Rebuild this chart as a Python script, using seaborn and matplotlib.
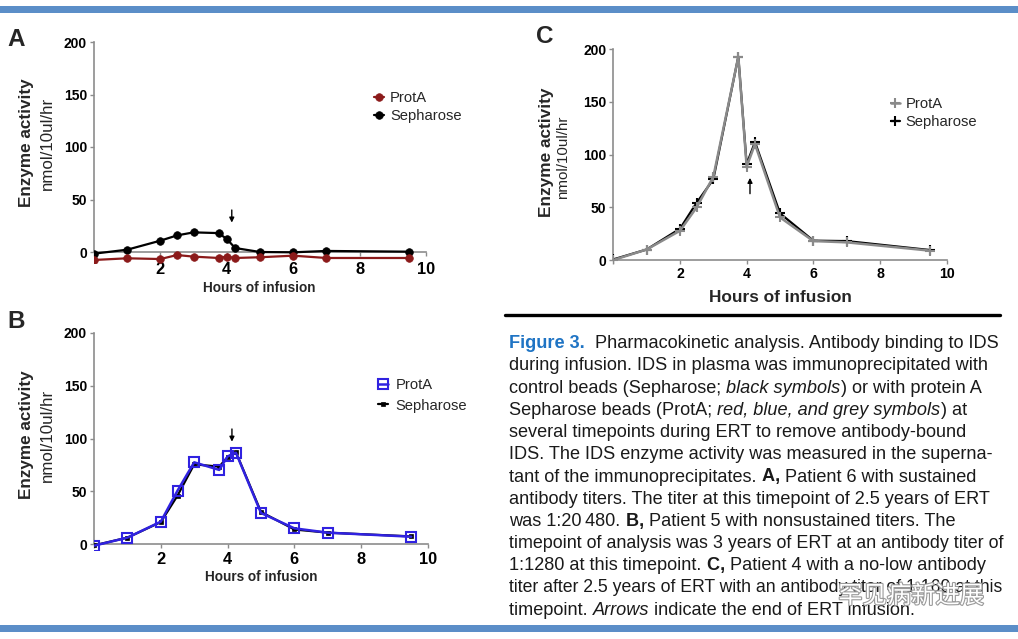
import numpy as np
import pandas as pd
import matplotlib
matplotlib.use('Agg')
import matplotlib.pyplot as plt
import matplotlib.patheffects as pe
from matplotlib.patches import Rectangle
from matplotlib.lines import Line2D
import seaborn as sns

# ---------------- data ----------------
hours = [0, 1, 2, 2.5, 3, 3.75, 4, 4.25, 5, 6, 7, 9.5]
a_prota = [-7.6, -6.0, -6.7, -2.9, -4.4, -5.7, -4.4, -5.7, -5.0, -3.5, -5.7, -5.7]
a_sepharose = [-1.6, 2.2, 10.8, 15.8, 18.7, 18.0, 12.4, 3.8, 0.0, -0.3, 1.0, 0.3]
b_prota = [-1.3, 6.3, 21.4, 50.7, 77.5, 70.3, 83.1, 86.6, 29.6, 15.1, 11.0, 7.2]
b_sepharose = [-1.0, 6.3, 21.0, 46.0, 75.6, 73.4, 82.5, 87.0, 30.6, 14.0, 11.0, 7.5]
c_prota = [0.0, 10.0, 27.8, 50.0, 79.0, 193.0, 88.6, 110.0, 40.5, 18.0, 16.8, 8.9]
c_sepharose = [0.6, 10.0, 29.7, 54.4, 76.6, 193.0, 91.0, 112.0, 44.3, 18.4, 18.0, 9.5]
series_names = ['ProtA', 'Sepharose']
xtick_vals = [0, 2, 4, 6, 8, 10]
xtick_labels = ['', '2', '4', '6', '8', '10']
ytick_vals = [0, 50, 100, 150, 200]
end_of_infusion = {'A': 4.15, 'B': 4.13, 'C': 4.1}
xlabel_text = 'Hours of infusion'
ylabel_main = 'Enzyme activity'
ylabel_unit = 'nmol/10ul/hr'

caption_lines = [
    [("Figure 3.  ", "fig"), ("Pharmacokinetic analysis. Antibody binding to IDS", "n")],
    [("during infusion. IDS in plasma was immunoprecipitated with", "n")],
    [("control beads (Sepharose; ", "n"), ("black symbols", "i"), (") or with protein A", "n")],
    [("Sepharose beads (ProtA; ", "n"), ("red, blue, and grey symbols", "i"), (") at", "n")],
    [("several timepoints during ERT to remove antibody-bound", "n")],
    [("IDS. The IDS enzyme activity was measured in the superna-", "n")],
    [("tant of the immunoprecipitates. ", "n"), ("A, ", "b"), ("Patient 6 with sustained", "n")],
    [("antibody titers. The titer at this timepoint of 2.5 years of ERT", "n")],
    [("was 1:20\u2009480. ", "n"), ("B, ", "b"), ("Patient 5 with nonsustained titers. The", "n")],
    [("timepoint of analysis was 3 years of ERT at an antibody titer of", "n")],
    [("1:1280 at this timepoint. ", "n"), ("C, ", "b"), ("Patient 4 with a no-low antibody", "n")],
    [("titer after 2.5 years of ERT with an antibody titer of 1:160 at this", "n")],
    [("timepoint. ", "n"), ("Arrows", "i"), (" indicate the end of ERT infusion.", "n")],
]
watermark = '罕见病新进展'

# ---------------- style ----------------
W, H = 1018, 639
sns.set_theme(style='white')
plt.rcParams['font.family'] = ['Liberation Sans', 'DejaVu Sans']
fig = plt.figure(figsize=(W / 100, H / 100), dpi=100)
fig.patch.set_facecolor('white')

AXGREY = '#8c8c8c'
RED = '#8b1a1a'
BLUE = '#3022e0'
GREY = '#8a8a8a'
BAR = '#5b8ec8'


def fx(x):
    return x / W


def fy(y):
    return 1 - y / H


def add_ax(l, t, r, b):
    return fig.add_axes([l / W, 1 - b / H, (r - l) / W, (b - t) / H])


def setup(ax, ylo, xsize, xpad):
    ax.set_facecolor('none')
    ax.set_xlim(0, 10)
    ax.set_ylim(ylo, 200)
    for s in ['top', 'right']:
        ax.spines[s].set_visible(False)
    ax.spines['bottom'].set_position(('data', 0))
    ax.spines['left'].set_bounds(0, 200)
    for s in ['bottom', 'left']:
        ax.spines[s].set_color(AXGREY)
        ax.spines[s].set_linewidth(1.2)
    ax.set_xticks(xtick_vals)
    ax.set_xticklabels(xtick_labels)
    ax.set_yticks(ytick_vals)
    ax.set_yticklabels([str(v) for v in ytick_vals])
    ax.tick_params(axis='x', direction='out', length=3, width=1, color=AXGREY,
                   pad=xpad, labelsize=xsize, bottom=True)
    ax.tick_params(axis='y', direction='out', length=3, width=1, color=AXGREY,
                   pad=2, labelsize=10, left=True)
    for lab in ax.get_xticklabels() + ax.get_yticklabels():
        lab.set_fontweight('bold')
        lab.set_color('black')
    ax.grid(False)
    ax.set_xlabel('')
    ax.set_ylabel('')


def arrow(ax, x, y0, y1):
    ax.annotate('', xy=(x, y1), xytext=(x, y0),
                arrowprops=dict(arrowstyle='-|>', color='black', lw=1.0,
                                mutation_scale=7, shrinkA=0, shrinkB=0))


# ---------------- Panel A ----------------
axA = add_ax(94, 42, 426, 262.5)
setup(axA, -10, 11.8, 4.5)
sns.lineplot(x=hours, y=a_sepharose, ax=axA, color='black', lw=1.6, marker='o',
             markersize=5.5, markeredgecolor='black', markeredgewidth=0.5,
             label=series_names[1], zorder=3)
sns.lineplot(x=hours, y=a_prota, ax=axA, color=RED, lw=1.6, marker='o',
             markersize=5.5, markeredgecolor=RED, markeredgewidth=0.5,
             label=series_names[0], zorder=3)
arrow(axA, end_of_infusion['A'], 40, 28)
h, l = axA.get_legend_handles_labels()
axA.legend([h[1], h[0]], [l[1], l[0]], loc='upper left',
           bbox_to_anchor=(fx(374), fy(91)), bbox_transform=fig.transFigure,
           frameon=False, borderpad=0, borderaxespad=0, handlelength=0.7,
           handletextpad=0.4, labelspacing=0.3, fontsize=10.6)
axA.set_xlabel(xlabel_text, fontsize=9.8, fontweight='bold')
axA.xaxis.set_label_coords((259.5 - 94) / (426 - 94), (262.5 - 288) / 220.5)
axA.xaxis.label.set_va('center')
fig.text(fx(26), fy(143), ylabel_main, rotation=90, ha='center', va='center',
         fontsize=12.3, fontweight='bold')
fig.text(fx(47), fy(143), ylabel_unit, rotation=90, ha='center', va='center',
         fontsize=12.2)
fig.text(fx(7), fy(46), 'A', fontsize=17.5, fontweight='bold', ha='left', va='baseline')

# ---------------- Panel B ----------------
axB = add_ax(94, 332.7, 428, 549.6)
setup(axB, -5, 11.8, 2.8)
sns.lineplot(x=hours, y=b_sepharose, ax=axB, color='black', lw=1.6, marker='s',
             markersize=3, markeredgecolor='black', markeredgewidth=0.5,
             label=series_names[1], zorder=3)
sns.lineplot(x=hours, y=b_prota, ax=axB, color=BLUE, lw=1.8, marker='s',
             markersize=6.5, markerfacecolor='none', markeredgecolor=BLUE,
             markeredgewidth=1.5, label=series_names[0], zorder=4)
arrow(axB, end_of_infusion['B'], 109, 97)
h, l = axB.get_legend_handles_labels()
axB.legend([h[1], h[0]], [l[1], l[0]], loc='upper left',
           bbox_to_anchor=(fx(378), fy(378)), bbox_transform=fig.transFigure,
           frameon=False, borderpad=0, borderaxespad=0, handlelength=0.7,
           handletextpad=0.5, labelspacing=0.45, fontsize=10.6)
axB.set_xlabel(xlabel_text, fontsize=9.8, fontweight='bold')
axB.xaxis.set_label_coords((261 - 94) / (428 - 94), (549.6 - 577) / (549.6 - 332.7))
axB.xaxis.label.set_va('center')
fig.text(fx(26), fy(435), ylabel_main, rotation=90, ha='center', va='center',
         fontsize=12.3, fontweight='bold')
fig.text(fx(47), fy(435), ylabel_unit, rotation=90, ha='center', va='center',
         fontsize=12.2)
fig.text(fx(7), fy(328), 'B', fontsize=17.5, fontweight='bold', ha='left', va='baseline')

# ---------------- Panel C ----------------
axC = add_ax(613.3, 49.3, 946.7, 263.2)
setup(axC, -3, 10.2, 2.2)
sns.lineplot(x=hours, y=c_sepharose, ax=axC, color='black', lw=1.6, marker='+',
             markersize=7, markeredgecolor='black', markeredgewidth=1.5,
             label=series_names[1], zorder=3)
sns.lineplot(x=hours, y=c_prota, ax=axC, color=GREY, lw=1.8, marker='+',
             markersize=7, markeredgecolor=GREY, markeredgewidth=1.5,
             label=series_names[0], zorder=4)
arrow(axC, end_of_infusion['C'], 63, 78)
h, l = axC.get_legend_handles_labels()
axC.legend([h[1], h[0]], [l[1], l[0]], loc='upper left',
           bbox_to_anchor=(fx(891), fy(97)), bbox_transform=fig.transFigure,
           frameon=False, borderpad=0, borderaxespad=0, handlelength=0.6,
           handletextpad=0.4, labelspacing=0.3, fontsize=10.6)
axC.set_xlabel(xlabel_text, fontsize=12.4, fontweight='bold')
axC.xaxis.set_label_coords((780 - 613.3) / (946.7 - 613.3), (263.2 - 297) / (263.2 - 49.3))
axC.xaxis.label.set_va('center')
fig.text(fx(547), fy(152), ylabel_main, rotation=90, ha='center', va='center',
         fontsize=12.4, fontweight='bold')
fig.text(fx(563), fy(157), ylabel_unit, rotation=90, ha='center', va='center',
         fontsize=10.9)
fig.text(fx(536), fy(43), 'C', fontsize=17.5, fontweight='bold', ha='left', va='baseline')

# ---------------- decorations ----------------
fig.add_artist(Rectangle((0, fy(13.3)), 1, 7.3 / H, transform=fig.transFigure,
                         facecolor=BAR, edgecolor='none'))
fig.add_artist(Rectangle((0, fy(632)), 1, 7 / H, transform=fig.transFigure,
                         facecolor=BAR, edgecolor='none'))
fig.add_artist(Line2D([fx(505), fx(1000)], [fy(315), fy(315)], lw=2.4,
                      color='black', transform=fig.transFigure))

# ---------------- caption ----------------
renderer = fig.canvas.get_renderer()
CAP_SIZE = 13.1
CAP_LEFT, CAP_RIGHT = 509.3, 1000.0


def style(st, size):
    d = dict(fontsize=size, color='#1a1a1a')
    if st == 'i':
        d['fontstyle'] = 'italic'
    elif st == 'b':
        d['fontweight'] = 'bold'
    elif st == 'fig':
        d['fontweight'] = 'bold'
        d['color'] = '#1f74c4'
    return d


def seg_width(s, kw):
    t1 = fig.text(0, 0, s + '|', **kw)
    w1 = t1.get_window_extent(renderer).width
    t1.remove()
    t2 = fig.text(0, 0, '|', **kw)
    w2 = t2.get_window_extent(renderer).width
    t2.remove()
    return w1 - w2


for i, line in enumerate(caption_lines):
    size = CAP_SIZE
    total = sum(seg_width(s, style(st, size)) for s, st in line)
    if total > CAP_RIGHT - CAP_LEFT:
        size = size * (CAP_RIGHT - CAP_LEFT) / total
    x = CAP_LEFT
    base = 348.3 + 22.2 * i
    for s, st in line:
        kw = style(st, size)
        fig.text(fx(x), fy(base), s, ha='left', va='baseline', **kw)
        x += seg_width(s, kw)

wm = fig.text(fx(911), fy(596), watermark, ha='center', va='center', fontsize=17.5,
              color='white', family=['Noto Sans CJK SC', 'DejaVu Sans'])
wm.set_path_effects([pe.Stroke(linewidth=1.6, foreground='#9a9a9a'), pe.Normal()])

fig.savefig('out.png', dpi=100, facecolor='white')
